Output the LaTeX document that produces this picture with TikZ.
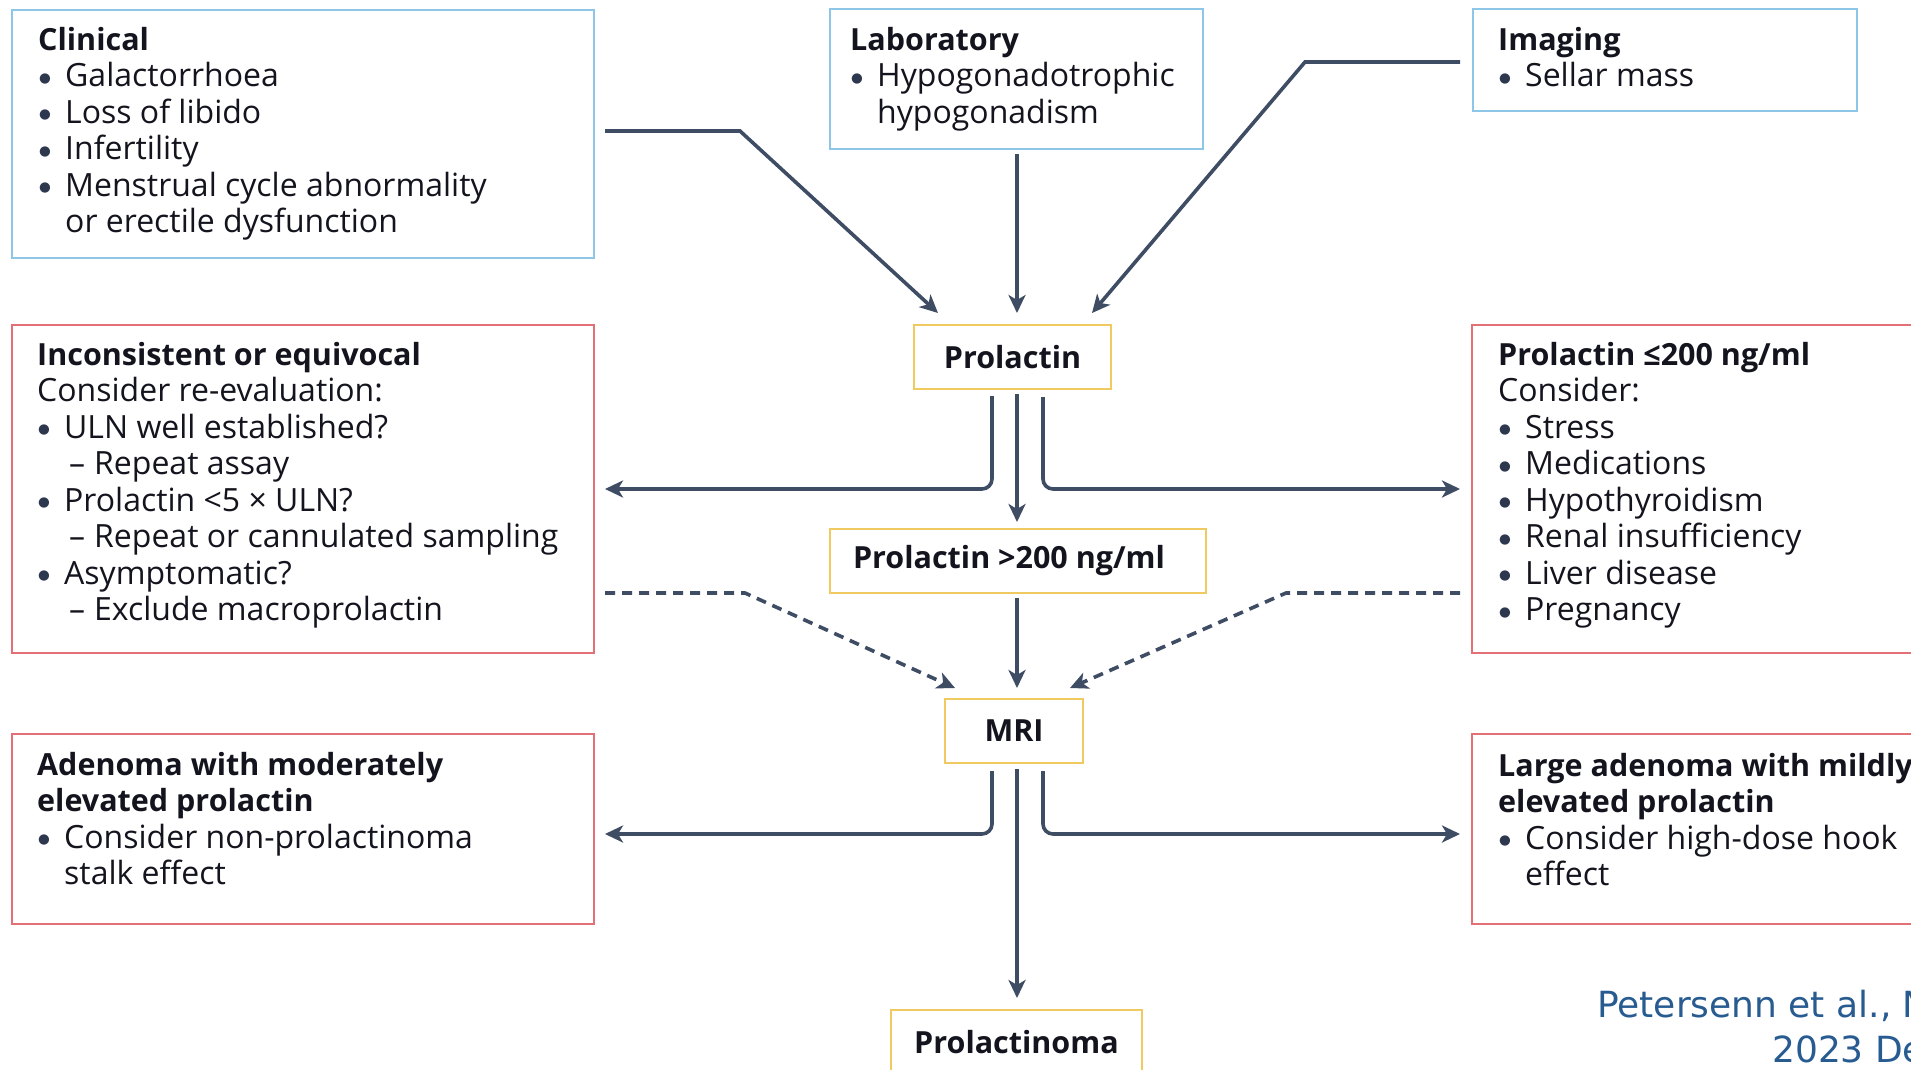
\documentclass[tikz,border=0pt]{standalone}
\usepackage{fontspec}
\setmainfont{Open Sans}
\newfontfamily\citefont{DejaVu Sans}
\usetikzlibrary{arrows.meta}
\definecolor{bluec}{RGB}{142,198,232}
\definecolor{redc}{RGB}{226,112,118}
\definecolor{yelc}{RGB}{240,202,96}
\definecolor{arrowc}{RGB}{62,76,100}
\definecolor{bulc}{RGB}{45,55,78}
\definecolor{textc}{RGB}{20,20,30}
\definecolor{citec}{RGB}{40,92,145}
\newcommand\fst{\rule{0pt}{26pt}}
\newcommand\bul{\makebox[27pt][l]{\hspace{1pt}\raisebox{4.5pt}{\citefont\fontsize{13.5pt}{13.5pt}\selectfont\textcolor{bulc}{●}}}}
\newcommand\ind{\hspace*{27pt}}
\newcommand\subi{\hspace*{32pt}\makebox[25pt][l]{–}}
\newcommand\tb[1]{{\fontsize{30.5pt}{36.5pt}\selectfont\bfseries #1}}
\begin{document}
\begin{tikzpicture}[x=1pt,y=-1pt,
  box/.style={draw, line width=2pt, anchor=north west, inner sep=0pt},
  bluebox/.style={box, draw=bluec},
  redbox/.style={box, draw=redc},
  yelbox/.style={box, draw=yelc, font=\bfseries\fontsize{30.5pt}{36.5pt}\selectfont, text=textc},
  txt/.style={anchor=north west, inner sep=0pt, align=left, font=\fontsize{32pt}{36.5pt}\selectfont, text=textc},
  arr/.style={draw=arrowc, line width=3.6pt, -{Stealth[length=18pt,width=17pt,inset=5pt]}},
  darr/.style={arr, dash pattern=on 10pt off 7pt},
  cite/.style={anchor=base west, inner sep=0pt, font=\citefont\fontsize{36pt}{40pt}\selectfont, text=citec}
]
\fill[white] (0,0) rectangle (1911,1070);
\useasboundingbox (0,0) rectangle (1911,1070);

% boxes
\node[bluebox, minimum width=582pt, minimum height=248pt] (clin) at (11,9) {};
\node[bluebox, minimum width=373pt, minimum height=140pt] (lab) at (829,8) {};
\node[bluebox, minimum width=384pt, minimum height=102pt] (img) at (1472,8) {};
\node[yelbox, minimum width=197pt, minimum height=64pt] (prl) at (913,324) {Prolactin};
\node[redbox, minimum width=582pt, minimum height=328pt] (inc) at (11,324) {};
\node[redbox, minimum width=470pt, minimum height=328pt] (le) at (1471,324) {};
\node[yelbox, minimum width=376pt, minimum height=64pt] (gt) at (829,528) {Prolactin >200 ng/ml\hspace*{18pt}};
\node[yelbox, minimum width=138pt, minimum height=64pt] (mri) at (944,698) {MRI};
\node[redbox, minimum width=582pt, minimum height=190pt] (aden) at (11,733) {};
\node[redbox, minimum width=470pt, minimum height=190pt] (large) at (1471,733) {};
\node[yelbox, minimum width=251pt, minimum height=64pt] (noma) at (890,1009) {Prolactinoma};

% texts
\node[txt] (clinT) at (38,24) {\fst\tb{Clinical}\\\bul Galactorrhoea\\\bul Loss of libido\\\bul Infertility\\\bul Menstrual cycle abnormality\\\ind or erectile dysfunction};
\node[txt] (labT) at (850,24) {\fst\tb{Laboratory}\\\bul Hypogonadotrophic\\\ind hypogonadism};
\node[txt] (imgT) at (1498,24) {\fst\tb{Imaging}\\\bul Sellar mass};
\node[txt] (incT) at (37,339) {\fst\tb{Inconsistent or equivocal}\\Consider re-evaluation:\\\bul ULN well established?\\\subi Repeat assay\\\bul Prolactin <5 × ULN?\\\subi Repeat or cannulated sampling\\\bul Asymptomatic?\\\subi Exclude macroprolactin};
\node[txt] (leT) at (1498,339) {\fst\tb{Prolactin ≤200 ng/ml}\\Consider:\\\bul Stress\\\bul Medications\\\bul Hypothyroidism\\\bul Renal insufficiency\\\bul Liver disease\\\bul Pregnancy};
\node[txt] (adenT) at (37,749) {\fst\tb{Adenoma with moderately}\\\tb{elevated prolactin}\\\bul Consider non-prolactinoma\\\ind stalk effect};
\node[txt] (largeT) at (1498,750) {\fst\tb{Large adenoma with mildly}\\\tb{elevated prolactin}\\\bul Consider high-dose hook\\\ind effect};

% citation
\node[cite] (cite1) at (1597,1017) {Petersenn et al., N};
\node[cite] (cite2) at (1772,1062) {2023 De};

% axis helpers
\coordinate (ax) at (1017,0);
\coordinate (bl) at (992,0);
\coordinate (br) at (1043,0);

% connectors
\draw[arr] ([xshift=10pt,yshift=3pt]clin.east) -- ++(135,0) -- ([xshift=25pt,yshift=11pt]prl.north west);
\draw[arr, shorten <=4pt, shorten >=11pt] (lab.south -| ax) -- (prl.north -| ax);
\draw[arr] ([xshift=-12pt,yshift=-2pt]img.west) -- ++(-155,0) -- ([xshift=-20pt,yshift=11pt]prl.north east);

\draw[arr, rounded corners=10pt, shorten <=6pt] (prl.south -| bl) |- ([xshift=10pt]inc.east);
\draw[arr, shorten <=4pt, shorten >=6pt] (prl.south -| ax) -- (gt.north -| ax);
\draw[arr, rounded corners=10pt, shorten <=7pt] (prl.south -| br) |- ([xshift=-11pt]le.west);

\draw[darr] ([xshift=10pt,yshift=61pt]inc.south east) -- ++(140,0) -- ([xshift=11pt,yshift=10pt]mri.north west);
\draw[darr] ([xshift=-11pt,yshift=61pt]le.south west) -- ++(-174,0) -- ([xshift=-14pt,yshift=10pt]mri.north east);
\draw[arr, shorten <=4pt, shorten >=10pt] (gt.south -| ax) -- (mri.north -| ax);

\draw[arr, rounded corners=10pt, shorten <=7pt] (mri.south -| bl) |- ([xshift=10pt,yshift=-5pt]aden.east);
\draw[arr, rounded corners=10pt, shorten <=7pt] (mri.south -| br) |- ([xshift=-11pt,yshift=-5pt]large.west);
\draw[arr, shorten <=5pt, shorten >=11pt] (mri.south -| ax) -- (noma.north -| ax);
\end{tikzpicture}
\end{document}
